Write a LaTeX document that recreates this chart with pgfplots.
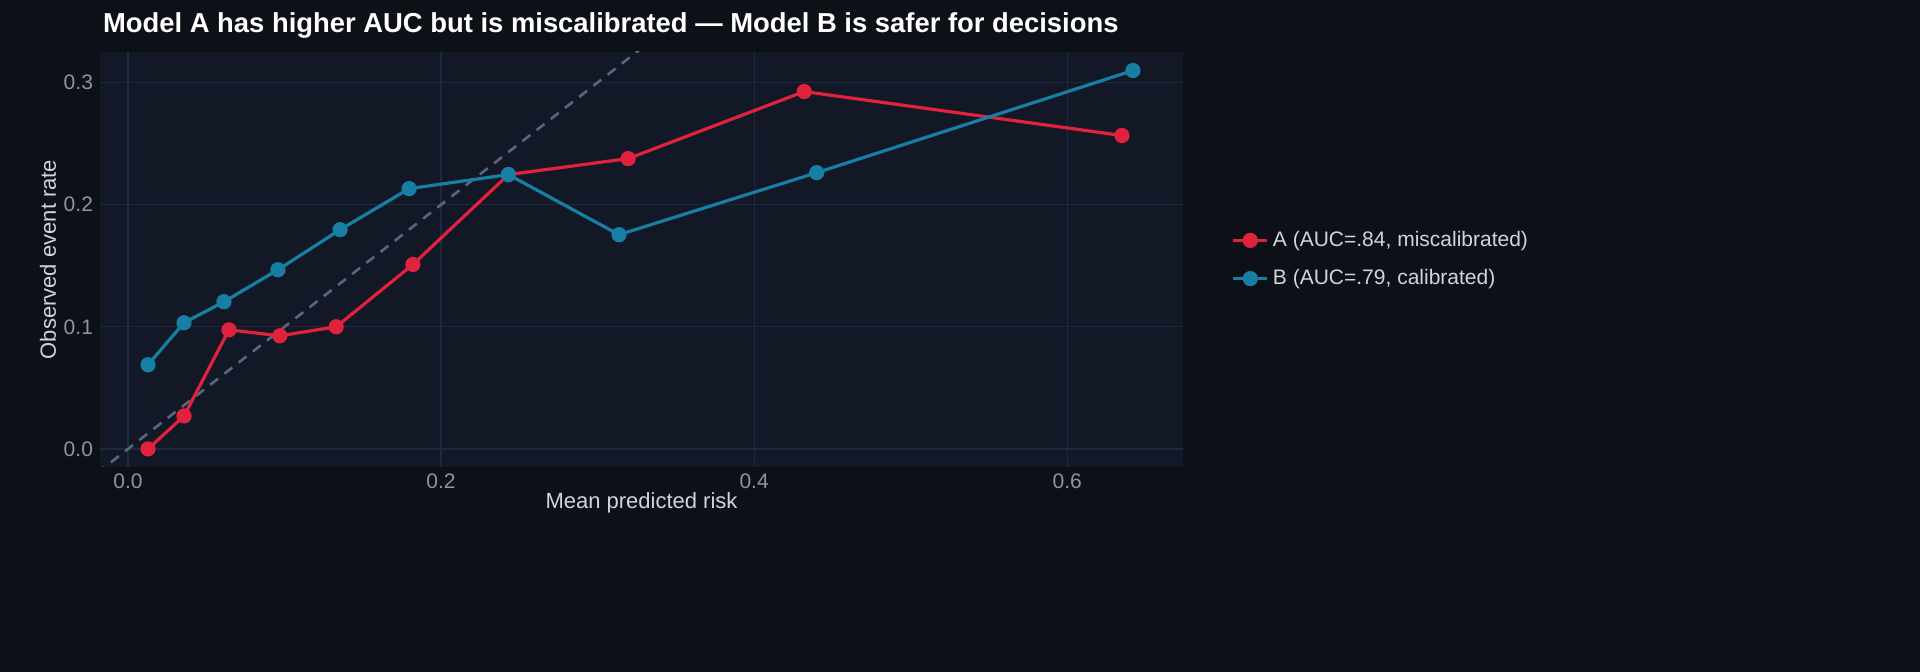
\documentclass[border=0pt]{standalone}
\usepackage{pgfplots}
\pgfplotsset{compat=1.18}
\usepackage{fontspec}
\setmainfont{Liberation Sans}
\definecolor{bg}{HTML}{0D1117}
\definecolor{panel}{HTML}{121826}
\definecolor{gridc}{HTML}{1E2840}
\definecolor{tickc}{HTML}{8B95A5}
\definecolor{labc}{HTML}{D0D4DC}
\definecolor{ca}{HTML}{E0223C}
\definecolor{cb}{HTML}{167FA3}
\definecolor{diag}{HTML}{5A6580}
\begin{document}
\begin{tikzpicture}[x=1pt,y=1pt]
\fill[bg] (0,0) rectangle (960,336);
\path[use as bounding box] (0,0) rectangle (960,336);
\node[anchor=west,text=white,font=\bfseries\fontsize{13.7}{15}\selectfont] at (48,323.5) {Model A has higher AUC but is miscalibrated — Model B is safer for decisions};
\begin{axis}[at={(50pt,102.5pt)},anchor=south west,scale only axis,
 width=541.5pt,height=207.5pt,
 xmin=-0.0179,xmax=0.674,ymin=-0.0148,ymax=0.325,
 axis background/.style={fill=panel},
 axis line style={draw=none},
 grid=major, major grid style={gridc,line width=0.6pt},
 tick style={draw=none},
 xtick={0,0.2,0.4,0.6}, ytick={0,0.1,0.2,0.3},
 xticklabels={0.0,0.2,0.4,0.6}, yticklabels={0.0,0.1,0.2,0.3},
 ticklabel style={text=tickc,font=\fontsize{10.5}{12}\selectfont},
 xlabel={Mean predicted risk}, ylabel={Observed event rate},
 label style={text=labc,font=\fontsize{11}{13}\selectfont},
 xlabel style={yshift=5pt}, ylabel style={yshift=-3pt},
 legend style={at={(1.039,0.5)},anchor=west,fill=none,draw=none,text=labc,font=\fontsize{10.5}{12}\selectfont,row sep=6pt},
 legend cell align=left,
 clip=true]
\addplot[diag,dashed,line width=1.3pt,dash pattern=on 5pt off 4pt,forget plot] coordinates {(-0.02,-0.02) (0.35,0.35)};
\addplot[ca,line width=1.6pt,mark=*,mark size=3pt] coordinates {
(0.0128,0) (0.0358,0.027) (0.0645,0.0975) (0.097,0.0926) (0.133,0.100) (0.182,0.151) (0.243,0.2246) (0.3195,0.2377) (0.432,0.2926) (0.635,0.2566)};
\addlegendentry{A (AUC=.84, miscalibrated)}
\addplot[cb,line width=1.6pt,mark=*,mark size=3pt] coordinates {
(0.0128,0.0689) (0.0358,0.1033) (0.0613,0.1205) (0.0958,0.1467) (0.1355,0.1795) (0.1796,0.2131) (0.243,0.2246) (0.3137,0.1754) (0.440,0.2262) (0.642,0.3098)};
\addlegendentry{B (AUC=.79, calibrated)}
\end{axis}
\end{tikzpicture}
\end{document}
